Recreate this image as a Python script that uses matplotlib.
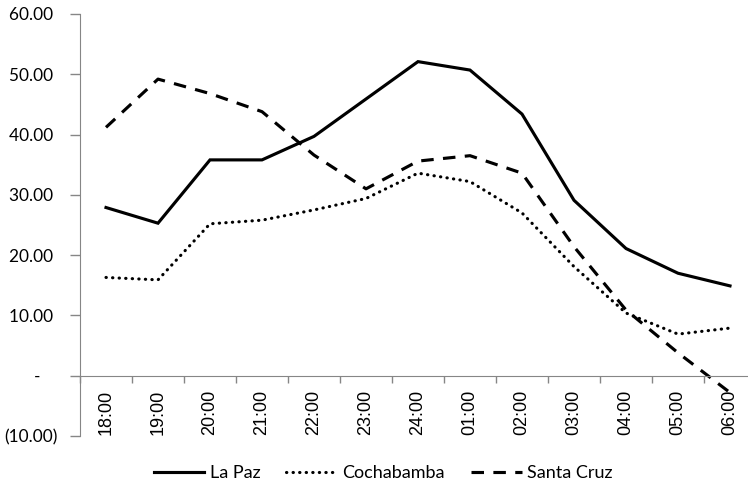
import matplotlib
matplotlib.use("Agg")
import matplotlib.pyplot as plt
from matplotlib.ticker import FuncFormatter, FixedLocator
import numpy as np

hours = ["18:00", "19:00", "20:00", "21:00", "22:00", "23:00", "24:00",
         "01:00", "02:00", "03:00", "04:00", "05:00", "06:00"]
la_paz = [27.9, 25.3, 35.8, 35.8, 39.7, 45.9, 52.1, 50.7, 43.4, 29.1, 21.1, 17.0, 14.9]
cochabamba = [16.3, 15.9, 25.2, 25.8, 27.5, 29.4, 33.6, 32.2, 27.0, 18.1, 10.4, 6.9, 7.9]
santa_cruz = [41.2, 49.2, 46.8, 43.8, 36.6, 31.0, 35.6, 36.5, 33.6, 21.4, 10.9, 3.8, -2.8]
series_names = ["La Paz", "Cochabamba", "Santa Cruz"]

axis_grey = "#868686"
lab_font = "Lato"

fig = plt.figure(figsize=(7.48, 4.86), dpi=100)
ax = fig.add_axes([80 / 748, 1 - 436 / 486, 676 / 748, 422 / 486])

x = np.arange(len(hours))
ax.plot(x, la_paz, color="black", lw=2.25, solid_joinstyle="miter", label=series_names[0])
ax.plot(x, cochabamba, color="black", lw=2.25, linestyle=(0, (0.1, 2.0)),
        dash_capstyle="round", label=series_names[1])
ax.plot(x, santa_cruz, color="black", lw=2.25, linestyle=(0, (4, 3)),
        dash_capstyle="butt", label=series_names[2])

ax.set_xlim(-0.5, len(hours) - 0.5)
ax.set_ylim(-10, 60)

# spines: y axis on the left, x axis at zero
for s in ["top", "right"]:
    ax.spines[s].set_visible(False)
ax.spines["left"].set_color(axis_grey)
ax.spines["bottom"].set_color(axis_grey)
ax.spines["bottom"].set_position(("data", 0))

ax.set_yticks(np.arange(-10, 61, 10))


def yfmt(v, pos):
    if abs(v) < 1e-9:
        return "-    "
    if v < 0:
        return "({:.2f})".format(-v)
    return "{:.2f} ".format(v)


ax.yaxis.set_major_formatter(FuncFormatter(yfmt))
ax.tick_params(axis="y", direction="out", length=7, width=1, color=axis_grey,
               pad=9, labelsize=12.4)
for t in ax.get_yticklabels():
    t.set_fontfamily(lab_font)

# category ticks between points, labels at the points
ax.xaxis.set_major_locator(FixedLocator(np.arange(-0.5, len(hours), 1.0)))
ax.xaxis.set_major_formatter(FuncFormatter(lambda v, p: ""))
ax.xaxis.set_minor_locator(FixedLocator(x))
ax.set_xticklabels(hours, minor=True)
ax.tick_params(axis="x", which="major", direction="out", length=5, width=1, color=axis_grey)
ax.tick_params(axis="x", which="minor", length=0, pad=10, labelsize=13, labelrotation=90)
for t in ax.get_xticklabels(minor=True):
    t.set_fontfamily("Liberation Sans")
    t.set_va("top")

leg = ax.legend(loc="center", bbox_to_anchor=(383 / 748, 1 - 473 / 486),
                bbox_transform=fig.transFigure, ncol=3, frameon=False,
                handlelength=2.8, handletextpad=0.3, columnspacing=1.45,
                prop={"family": lab_font, "size": 13})

fig.savefig("out.png", dpi=100)
